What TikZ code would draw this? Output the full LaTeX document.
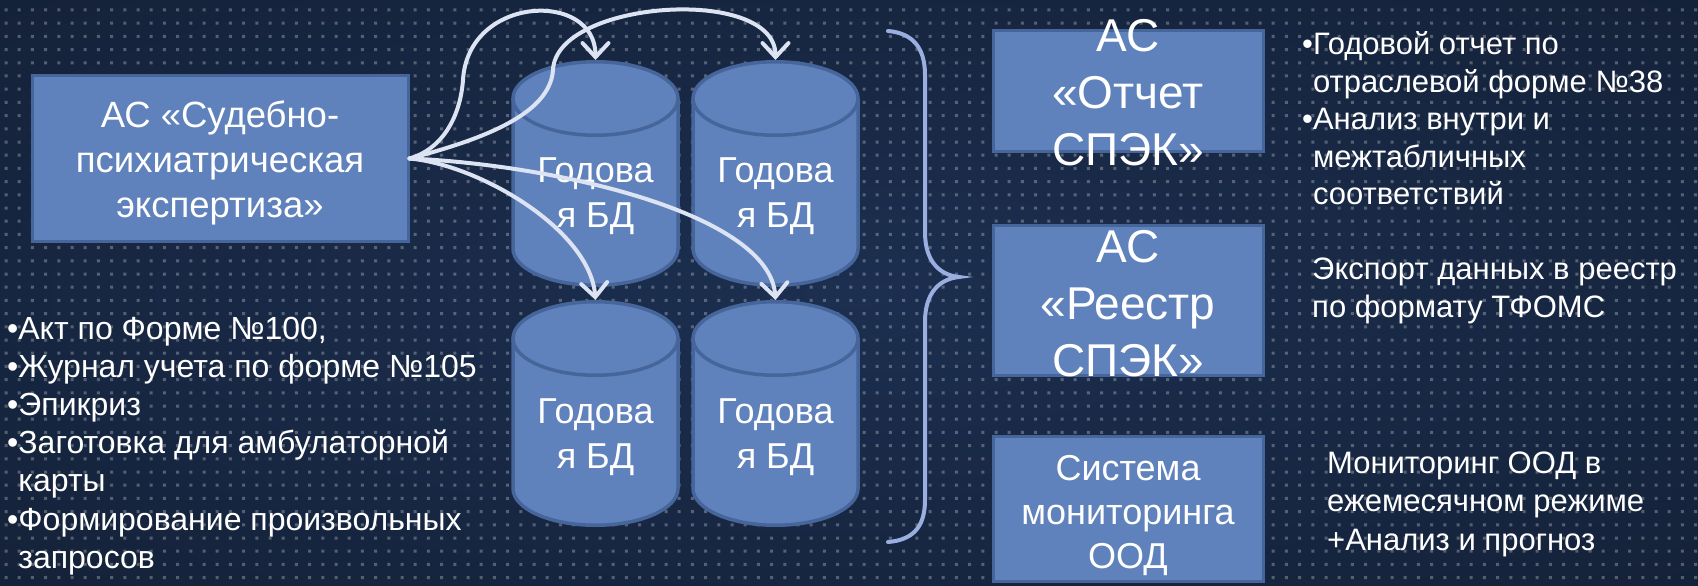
\documentclass[tikz,border=0pt]{standalone}
\usepackage{fontspec}
\setmainfont{Liberation Sans}
\usetikzlibrary{arrows.meta}
\definecolor{bgin}{HTML}{1C2F50}
\definecolor{bgmid}{HTML}{111C2F}
\definecolor{bgout}{HTML}{0C1320}
\definecolor{boxfill}{HTML}{6082BC}
\definecolor{boxline}{HTML}{46659A}
\definecolor{arrowc}{HTML}{DCE3F2}
\definecolor{bracec}{HTML}{9AAEE0}
\pgfdeclareradialshading{bgshade}{\pgfpoint{0bp}{0bp}}{color(0bp)=(bgin); color(50bp)=(bgmid); color(71bp)=(bgout)}
\newcommand\fsz[2]{\fontsize{#1}{#2}\selectfont}
\newcommand\dbcyl[3]{% #1 name, #2 centre x, #3 top ellipse centre y
  \fill[boxfill] ({#2-82.5},#3) -- ({#2-82.5},{#3+150})
    .. controls ({#2-82.5},{#3+170.3}) and ({#2-45.56},{#3+186.75}) .. (#2,{#3+186.75})
    .. controls ({#2+45.56},{#3+186.75}) and ({#2+82.5},{#3+170.3}) .. ({#2+82.5},{#3+150})
    -- ({#2+82.5},#3) -- cycle;
  \draw[cylline] ({#2-82.5},#3) -- ({#2-82.5},{#3+150})
    .. controls ({#2-82.5},{#3+170.3}) and ({#2-45.56},{#3+186.75}) .. (#2,{#3+186.75})
    .. controls ({#2+45.56},{#3+186.75}) and ({#2+82.5},{#3+170.3}) .. ({#2+82.5},{#3+150})
    -- ({#2+82.5},#3);
  \path[fill=boxfill, cylline] (#2,#3) ellipse [x radius=82.5, y radius=36.75];
  \coordinate (#1) at (#2,{#3-38.5});
}
\begin{document}
\begin{tikzpicture}[x=1pt,y=-1pt,
  bluebox/.style={fill=boxfill, draw=boxline, line width=3pt, inner sep=0pt},
  cylline/.style={draw=boxline, line width=3.5pt},
  txt/.style={text=white, inner sep=0pt, anchor=base},
  ltxt/.style={text=white, inner sep=0pt, anchor=base west},
  flow/.style={draw=arrowc, line width=4pt, line cap=round,
    -{Straight Barb[length=14pt,width=26pt,line cap=round]}},
  bracestyle/.style={draw=bracec, line width=4pt, line cap=round},
  dotc/.style={fill=white, fill opacity=0.27},
]
\useasboundingbox (0,0) rectangle (1698,586);
\shade[shading=bgshade] (0,0) rectangle (1698,586);
\foreach \j in {0,...,44} {
  \fill[dotc] foreach \i in {0,...,128} { ({4.5+13.2*\i},{8.5+13.2*\j}) rectangle ++(3,3) };
}

% left source box
\node[bluebox, minimum width=376pt, minimum height=166pt] (src) at (220,158.5) {};
\node[txt] (srctext) at (220,127) {\fsz{36.5}{45}\begin{tabular}[t]{@{}c@{}}АС «Судебно-\\психиатрическая\\экспертиза»\end{tabular}};

% cylinders
\dbcyl{c1top}{595.5}{98.5}
\dbcyl{c2top}{775.5}{98.5}
\dbcyl{c3top}{595.5}{338.5}
\dbcyl{c4top}{775.5}{338.5}
\node[txt] (c1) at (595.5,182) {\fsz{36}{45}\begin{tabular}[t]{@{}c@{}}Годова\\я БД\end{tabular}};
\node[txt] (c2) at (775.5,182) {\fsz{36}{45}\begin{tabular}[t]{@{}c@{}}Годова\\я БД\end{tabular}};
\node[txt] (c3) at (595.5,423) {\fsz{36}{45}\begin{tabular}[t]{@{}c@{}}Годова\\я БД\end{tabular}};
\node[txt] (c4) at (775.5,423) {\fsz{36}{45}\begin{tabular}[t]{@{}c@{}}Годова\\я БД\end{tabular}};

% arrows
\draw[flow] (src.east) .. controls (440,150) and (460,120) .. (463,80)
  .. controls (468,-5) and (595.5,-10) .. (c1top);
\draw[flow] (src.east) .. controls (480,140) and (550,115) .. (553,70)
  .. controls (556,0) and (775.5,-15) .. (c2top);
\draw[flow] (src.east) .. controls (480,165) and (590,230) .. (c3top);
\draw[flow] (src.east) .. controls (560,165) and (770,215) .. (c4top);

% left bullet list
\node[ltxt] (inputs) at (7,339) {\fsz{32}{38.2}\begin{tabular}[t]{@{}l@{}}•Акт по Форме №100,\\•Журнал учета по форме №105\\•Эпикриз\\•Заготовка для амбулаторной\\\phantom{•}карты\\•Формирование произвольных\\\phantom{•}запросов\end{tabular}};

% brace
\coordinate (bt) at (888,31);
\coordinate (bb) at (888,542);
\draw[bracestyle] (bt) .. controls (912,33) and (925,47) .. (925,75) -- (925,232)
  .. controls (925,262) and (940,275) .. (959,277)
  .. controls (940,279) and (925,292) .. (925,322) -- (925,500)
  .. controls (925,528) and (912,540) .. (bb);

% right boxes
\node[bluebox, minimum width=270pt, minimum height=121pt] (r1) at (1128.5,91) {};
\node[txt] (r1text) at (1128,52) {\fsz{46}{57}\begin{tabular}[t]{@{}c@{}}АС\\«Отчет\\СПЭК»\end{tabular}};
\node[bluebox, minimum width=270pt, minimum height=150pt] (r2) at (1128.5,300.5) {};
\node[txt] (r2text) at (1128,262) {\fsz{46}{57}\begin{tabular}[t]{@{}c@{}}АС\\«Реестр\\СПЭК»\end{tabular}};
\node[bluebox, minimum width=270pt, minimum height=145pt] (r3) at (1128.5,509) {};
\node[txt] (r3text) at (1128,480) {\fsz{36}{44}\begin{tabular}[t]{@{}c@{}}Система\\мониторинга\\ООД\end{tabular}};

% right descriptions
\node[ltxt] (d1) at (1302,55) {\fsz{31}{37.5}\begin{tabular}[t]{@{}l@{}}•Годовой отчет по\\\phantom{•}отраслевой форме №38\\•Анализ внутри и\\\phantom{•}межтабличных\\\phantom{•}соответствий\end{tabular}};
\node[ltxt] (d2) at (1312,279) {\fsz{31}{38}\begin{tabular}[t]{@{}l@{}}Экспорт данных в реестр\\по формату ТФОМС\end{tabular}};
\node[ltxt] (d3) at (1327,473) {\fsz{31}{38.5}\begin{tabular}[t]{@{}l@{}}Мониторинг ООД в\\ежемесячном режиме\\+Анализ и прогноз\end{tabular}};
\end{tikzpicture}
\end{document}
